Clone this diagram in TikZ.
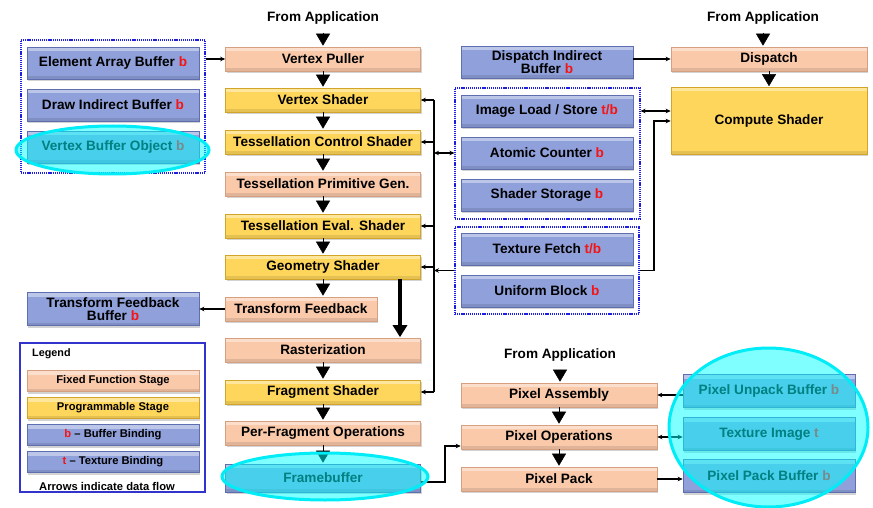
\documentclass[tikz,border=0pt]{standalone}
\usepackage{fontspec}
\setmainfont{Liberation Sans}
\usetikzlibrary{shadows,arrows.meta,shapes.geometric,calc}
\definecolor{ffc}{RGB}{249,201,170}
\definecolor{ffd}{RGB}{214,160,128}
\definecolor{progc}{RGB}{255,214,92}
\definecolor{progd}{RGB}{210,165,40}
\definecolor{bufc}{RGB}{143,160,218}
\definecolor{bufd}{RGB}{95,110,175}
\definecolor{bred}{RGB}{245,20,20}
\definecolor{grpc}{RGB}{30,30,225}
\definecolor{legc}{RGB}{50,50,205}
\definecolor{hlc}{RGB}{0,236,246}
\definecolor{hlf}{RGB}{0,255,255}
\newcommand\rb[1]{\textcolor{bred}{#1}}
\tikzset{
  box/.style={rectangle, line width=0.6pt, align=center, inner sep=1pt,
    font=\bfseries\fontsize{13.6}{13}\selectfont,
    drop shadow={shadow xshift=1.2pt, shadow yshift=-2pt, opacity=0.35},
    path picture={
      \fill[white,opacity=0.4] (path picture bounding box.north west) rectangle ([yshift=-4pt]path picture bounding box.north east);
      \fill[black,opacity=0.10] ([yshift=3pt]path picture bounding box.south west) rectangle (path picture bounding box.south east);}},
  ff/.style={box, fill=ffc, draw=ffd, minimum width=195pt, minimum height=24pt},
  prog/.style={box, fill=progc, draw=progd, minimum width=195pt, minimum height=24pt},
  buf/.style={box, fill=bufc, draw=bufd, minimum width=172pt, minimum height=32pt},
  legitem/.style={minimum width=172pt, minimum height=21pt, font=\bfseries\fontsize{11.2}{11}\selectfont},
  grp/.style={rectangle, draw=grpc, line width=1.1pt, dash pattern=on 1.2pt off 0.9pt, inner sep=0pt},
  lbl/.style={font=\bfseries\fontsize{13.6}{13}\selectfont, inner sep=1pt},
  hl/.style={ellipse, draw=hlc, line width=3pt, fill=hlf, fill opacity=0.5, inner sep=0pt},
  arr/.style={line width=1.2pt, -{Stealth[length=5pt,width=4.5pt]}},
  darr/.style={line width=1.2pt, {Stealth[length=5pt,width=4.5pt]}-{Stealth[length=5pt,width=4.5pt]}},
  tri/.style={line width=0.5pt, -{Triangle[length=12pt,width=14pt]}, shorten >=1pt},
  bigtri/.style={line width=3.5pt, -{Triangle[length=12pt,width=14pt]}, shorten >=0.5pt},
  plain/.style={line width=1.2pt}
}
\begin{document}
\begin{tikzpicture}[x=1pt,y=-1pt]
\useasboundingbox (0,0) rectangle (873,508);

% groups (dotted)
\node[grp, minimum width=184pt, minimum height=133pt] (grpL) at (113,106.5) {};
\node[grp, minimum width=185pt, minimum height=131pt] (grpA) at (547.5,153.5) {};
\node[grp, minimum width=184pt, minimum height=87pt] (grpB) at (547,270.5) {};

% middle column
\node[lbl] (FA1) at (323,18) {From Application};
\node[ff] (VP) at (323,59) {Vertex Puller};
\node[prog] (VS) at (323,100) {Vertex Shader};
\node[prog] (TCS) at (323,142) {Tessellation Control Shader};
\node[ff] (TPG) at (323,184) {Tessellation Primitive Gen.};
\node[prog] (TES) at (323,226) {Tessellation Eval. Shader};
\node[prog] (GS) at (323,267) {Geometry Shader};
\node[ff, minimum width=152pt] (TF) at (301,309) {Transform Feedback};
\node[ff] (RA) at (323,350) {Rasterization};
\node[prog] (FS) at (323,392) {Fragment Shader};
\node[ff] (PFO) at (323,433) {Per-Fragment Operations};
\node[buf, minimum width=195pt, minimum height=28pt] (FB) at (323,478) {Framebuffer};

% left buffers
\node[buf] (EAB) at (113,63) {Element Array Buffer \rb{b}};
\node[buf] (DIBL) at (113,105) {Draw Indirect Buffer \rb{b}};
\node[buf] (VBO) at (113,147) {Vertex Buffer Object \rb{b}};
\node[buf, minimum height=33pt] (TFB) at (113,309) {Transform Feedback\\Buffer \rb{b}};

% right buffers
\node[buf] (DIB) at (547,62) {Dispatch Indirect\\Buffer \rb{b}};
\node[buf] (ILS) at (547,111) {Image Load / Store \rb{t/b}};
\node[buf] (AC) at (547,153) {Atomic Counter \rb{b}};
\node[buf] (SS) at (547,195) {Shader Storage \rb{b}};
\node[buf] (TXF) at (547,249) {Texture Fetch \rb{t/b}};
\node[buf] (UB) at (547,291) {Uniform Block \rb{b}};

% compute
\node[lbl] (FA2) at (763,18) {From Application};
\node[ff, minimum width=196pt] (DP) at (769,59) {Dispatch};
\node[prog, minimum width=196pt, minimum height=67pt] (CS) at (769,121) {Compute Shader};

% pixel path
\node[lbl] (FA3) at (560,355) {From Application};
\node[ff, minimum width=196pt] (PA) at (559,395) {Pixel Assembly};
\node[ff, minimum width=196pt] (PO) at (559,437) {Pixel Operations};
\node[ff, minimum width=196pt] (PP) at (559,479) {Pixel Pack};
\node[buf, minimum height=33pt] (PUB) at (769,391) {Pixel Unpack Buffer \rb{b}};
\node[buf, minimum height=33pt] (TI) at (769,434) {Texture Image \rb{t}};
\node[buf, minimum height=33pt] (PPB) at (769,476) {Pixel Pack Buffer \rb{b}};

% legend
\node[draw=legc, line width=1.6pt, minimum width=185pt, minimum height=149pt, inner sep=0pt] (LEG) at (112.5,417.5) {};
\node[anchor=west, font=\bfseries\fontsize{10.8}{10.5}\selectfont, inner sep=0pt] (LEGT) at (32,354) {Legend};
\node[ff, legitem] (L1) at (113,381) {Fixed Function Stage};
\node[prog, legitem] (L2) at (113,408) {Programmable Stage};
\node[buf, legitem] (L3) at (113,435) {\rb{b} \textendash\ Buffer Binding};
\node[buf, legitem] (L4) at (113,462) {\rb{t} \textendash\ Texture Binding};
\node[font=\bfseries\fontsize{11.2}{11}\selectfont, inner sep=0pt] (LEGA) at (107,486) {Arrows indicate data flow};

% big triangles
\draw[tri, shorten <=7pt] (FA1.south) -- (VP.north);
\draw[tri] (VP.south) -- (VS.north);
\draw[tri] (VS.south) -- (TCS.north);
\draw[tri] (TCS.south) -- (TPG.north);
\draw[tri] (TPG.south) -- (TES.north);
\draw[tri] (TES.south) -- (GS.north);
\draw[tri] (GS.south) -- (GS.south |- TF.north);
\draw[tri] (RA.south) -- (FS.north);
\draw[tri] (FS.south) -- (PFO.north);
\draw[tri] (PFO.south) -- (FB.north);
\draw[tri, shorten <=7pt] (FA2.south) -- (FA2.south |- DP.north);
\draw[tri] (DP.south) -- (CS.north);
\draw[tri, shorten <=7pt] (FA3.south) -- (FA3.south |- PA.north);
\draw[tri] (PA.south) -- (PO.north);
\draw[tri] (PO.south) -- (PP.north);
\coordinate (gx) at (400,0);
\draw[bigtri] (GS.south -| gx) -- (RA.north -| gx);

% bus
\coordinate (bus) at (434,0);
\draw[plain] (VS.east -| bus) -- (FS.east -| bus);
\foreach \n in {VS,TCS,TES,GS,FS} \draw[arr] (\n.east -| bus) -- (\n.east);
\draw[darr] (AC.west -| bus) -- (AC.west -| grpA.west);
\draw[arr] (grpB.west) -- (grpB.west -| bus);
\draw[darr] (ILS.east -| grpA.east) -- (ILS.east -| CS.west);
\coordinate (jR) at (654,0);
\draw[arr] (grpB.east) -| (jR |- CS.west) -- (CS.west);
\draw[arr] (VP.west -| grpL.east) -- (VP.west);
\draw[arr] (TF.west) -- (TFB.east);
\draw[arr] (DP.west -| DIB.east) -- (DP.west);
\draw[arr] (PA.east -| PUB.west) -- (PA.east);
\draw[darr] (PO.east) -- (PO.east -| TI.west);
\draw[arr] (PP.east) -- (PP.east -| PPB.west);
\coordinate (jF) at (445,0);
\coordinate (poIn) at ([yshift=-9pt]PO.west);
\draw[arr] ([yshift=-4pt]FB.east) -| (jF |- poIn) -- (poIn);

% highlights
\node[hl, minimum width=193pt, minimum height=48pt] (E1) at (112.5,150) {};
\node[hl, minimum width=206pt, minimum height=47pt] (E2) at (325,476.5) {};
\node[hl, minimum width=199pt, minimum height=159pt] (E3) at (768.5,427.5) {};
\end{tikzpicture}
\end{document}
